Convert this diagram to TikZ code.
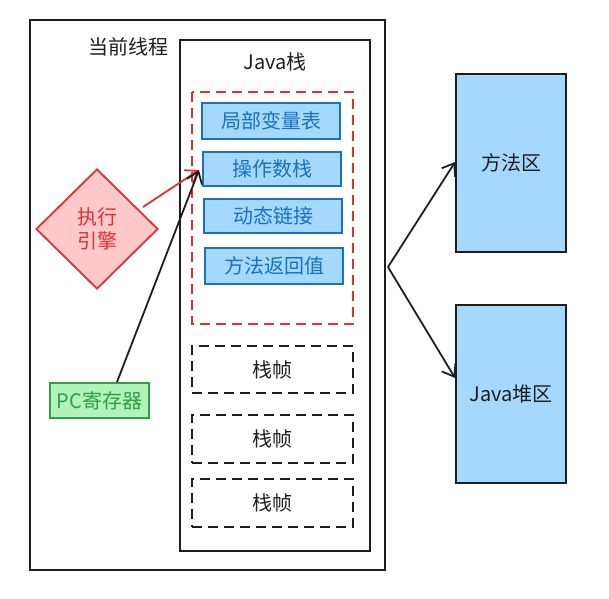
\documentclass[tikz,border=0pt]{standalone}
\usepackage{fontspec}
\setmainfont{Noto Sans CJK SC}
\usetikzlibrary{arrows.meta,shapes.geometric}
\definecolor{bluefill}{HTML}{A5D8FF}
\definecolor{bluedraw}{HTML}{1971C2}
\definecolor{redfill}{HTML}{FFC9C9}
\definecolor{reddraw}{HTML}{E03131}
\definecolor{greenfill}{HTML}{B2F2BB}
\definecolor{greendraw}{HTML}{2F9E44}
\definecolor{ink}{HTML}{1E1E1E}
\tikzset{
  big/.style={font=\fontsize{20}{24}\selectfont},
  txt/.style={big, text=ink},
  frame/.style={draw=ink, line width=1.8pt},
  partbox/.style={big, draw=bluedraw, fill=bluefill, line width=1.8pt, text=bluedraw},
  framebox/.style={big, draw=ink, dashed, dash pattern=on 10pt off 6pt, line width=2.4pt, text=ink},
  areabox/.style={big, draw=ink, fill=bluefill, line width=1.8pt, text=ink},
  arr/.style={-{Straight Barb[length=11pt,width=16pt]}, line width=1.8pt},
}
\begin{document}
\begin{tikzpicture}[x=1pt,y=-1pt]
\useasboundingbox (0,0) rectangle (609,598);
% outer thread box
\draw[frame] (30,20) rectangle (385,570);
\node[txt] (thread) at (128,47) {当前线程};
% java stack
\draw[frame] (180,40) rectangle (370,551);
\node[txt] (jstack) at (275,62) {Java栈};
% active frame
\draw[draw=reddraw, dashed, dash pattern=on 10pt off 6pt, line width=2.4pt] (192,92) rectangle (353,324);
\node[partbox, minimum width=138pt, minimum height=36pt] (lv) at (271,121) {局部变量表};
\node[partbox, minimum width=138pt, minimum height=34pt] (os) at (272,169) {操作数栈};
\node[partbox, minimum width=138pt, minimum height=34pt] (dl) at (273,216) {动态链接};
\node[partbox, minimum width=138pt, minimum height=36pt] (rv) at (274,266) {方法返回值};
% other frames
\node[framebox, minimum width=161pt, minimum height=47pt] (f1) at (272.5,369.5) {栈帧};
\node[framebox, minimum width=161pt, minimum height=48pt] (f2) at (272.5,439) {栈帧};
\node[framebox, minimum width=161pt, minimum height=48pt] (f3) at (272.5,503) {栈帧};
% execution engine
\node[diamond, big, draw=reddraw, fill=redfill, line width=1.8pt, minimum width=122pt, minimum height=120pt, inner sep=0pt, text=reddraw, align=center] (ee) at (97,229) {执行\\引擎};
% pc register
\node[big, draw=greendraw, fill=greenfill, line width=1.8pt, minimum width=99pt, minimum height=35pt, inner sep=2pt, text=greendraw] (pc) at (99.5,400.5) {PC寄存器};
% areas
\node[areabox, minimum width=110pt, minimum height=178pt] (ma) at (511,163) {方法区};
\node[areabox, minimum width=110pt, minimum height=178pt] (heap) at (511,394) {Java堆区};
% arrows
\coordinate (eeout) at (143,207);
\coordinate (pcout) at (117,382);
\coordinate (tip) at (199,170);
\coordinate (fork) at (388,267);
\draw[arr, draw=reddraw] (eeout) -- (tip);
\draw[arr, draw=ink] (pcout) -- (tip);
\draw[arr, draw=ink] (fork) -- (ma.west |- 0,162);
\draw[arr, draw=ink] (fork) -- (heap.west |- 0,378);
\end{tikzpicture}
\end{document}
